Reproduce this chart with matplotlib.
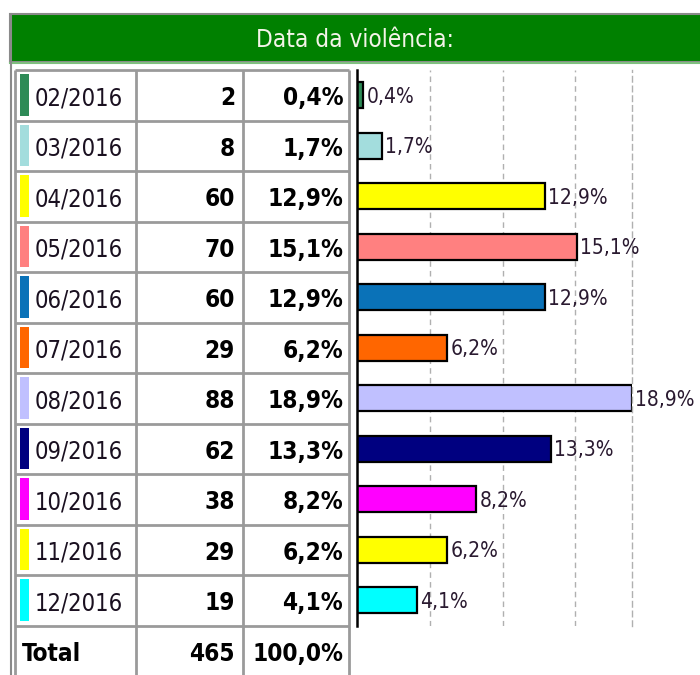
import matplotlib
matplotlib.use('Agg')
import matplotlib.pyplot as plt
from matplotlib.patches import Rectangle

plt.rcParams['font.family'] = ['DejaVu Sans']
plt.rcParams['font.stretch'] = 'condensed'

# Data
months = ['02/2016', '03/2016', '04/2016', '05/2016', '06/2016', '07/2016',
          '08/2016', '09/2016', '10/2016', '11/2016', '12/2016']
counts = [2, 8, 60, 70, 60, 29, 88, 62, 38, 29, 19]
percents = [0.4, 1.7, 12.9, 15.1, 12.9, 6.2, 18.9, 13.3, 8.2, 6.2, 4.1]
colors = ['#2E8B57', '#A3DDDD', '#FFFF00', '#FF8080', '#0A72B8', '#FF6600',
          '#C0C0FF', '#000080', '#FF00FF', '#FFFF00', '#00FFFF']
total_count = 465
total_pct = '100,0%'
title = 'Data da violência:'


def fmt_pct(v):
    return f'{v:.1f}%'.replace('.', ',')


W, H = 700, 675
fig = plt.figure(figsize=(W / 100, H / 100), dpi=100)
fig.patch.set_facecolor('white')

# background axes in pixel coordinates for the header and table
bg = fig.add_axes([0, 0, 1, 1])
bg.set_xlim(0, W)
bg.set_ylim(H, 0)
bg.axis('off')

# header
bg.add_patch(Rectangle((10, 14), 700, 48, facecolor='#008000',
                       edgecolor='#8a8a8a', lw=1.5))
bg.plot([10, 700], [62.5, 62.5], color='#7fbf7f', lw=1.5)
bg.text(355, 40, title, color='#f4f4e8', fontsize=17.5,
        ha='center', va='center')

# outer panel border
bg.plot([10.5, 10.5], [14, H], color='#8a8a8a', lw=1.5)

# table grid
row_top = 70
row_h = 50.5
n_rows = len(months) + 1
col_x = [15, 136, 243, 349]
grid_kw = dict(color='#9a9a9a', lw=2, solid_capstyle='butt')
for i in range(n_rows + 1):
    y = row_top + i * row_h
    bg.plot([col_x[0], col_x[-1]], [y, y], **grid_kw)
for x in col_x:
    bg.plot([x, x], [row_top, H + 5], **grid_kw)

fs = 17.5
dy = 3
txt_color = '#1a1020'
for i, (m, c, p, col) in enumerate(zip(months, counts, percents, colors)):
    top = row_top + i * row_h
    yc = top + row_h / 2
    bg.add_patch(Rectangle((20, top + 4), 9, row_h - 9, facecolor=col,
                           edgecolor='none'))
    bg.text(35, yc + dy, m, fontsize=17, color=txt_color, ha='left', va='center')
    bg.text(235, yc + dy, str(c), fontsize=fs, fontweight='bold', color='black',
            ha='right', va='center')
    bg.text(343, yc + dy, fmt_pct(p), fontsize=fs, fontweight='bold', color='black',
            ha='right', va='center')

yc = row_top + len(months) * row_h + row_h / 2
bg.text(22, yc + dy, 'Total', fontsize=fs, fontweight='bold', color='black',
        ha='left', va='center')
bg.text(235, yc + dy, str(total_count), fontsize=fs, fontweight='bold',
        color='black', ha='right', va='center')
bg.text(343, yc + dy, total_pct, fontsize=fs, fontweight='bold',
        color='black', ha='right', va='center')

# bar chart
left, right = 357, 632
top, bottom = row_top, row_top + len(months) * row_h
ax = fig.add_axes([left / W, 1 - bottom / H, (right - left) / W, (bottom - top) / H])
ax.patch.set_alpha(0)
y = list(range(len(months)))
ax.barh(y, percents, height=0.52, color=colors, edgecolor='black', lw=1.6)
ax.set_xlim(0, max(percents))
ax.set_ylim(len(months) - 0.5, -0.5)
ax.set_xticks([5, 10, 15])
ax.set_yticks([])
ax.tick_params(axis='x', length=0, labelbottom=False)
ax.grid(axis='x', color='#b0b0b0', linestyle=(0, (4, 3)), lw=1)
ax.set_axisbelow(True)
for s in ['top', 'bottom']:
    ax.spines[s].set_visible(False)
ax.spines['right'].set_color('#b0b0b0')
ax.spines['right'].set_linestyle((0, (4, 3)))
ax.spines['right'].set_linewidth(1)
ax.spines['left'].set_color('black')
ax.spines['left'].set_linewidth(1.8)
for yi, p in zip(y, percents):
    ax.annotate(fmt_pct(p), (p, yi), xytext=(2.5, -1), textcoords='offset points',
                fontsize=15, color='#2a1a30', ha='left', va='center',
                annotation_clip=False)

fig.savefig('out.png', dpi=100, facecolor='white')
